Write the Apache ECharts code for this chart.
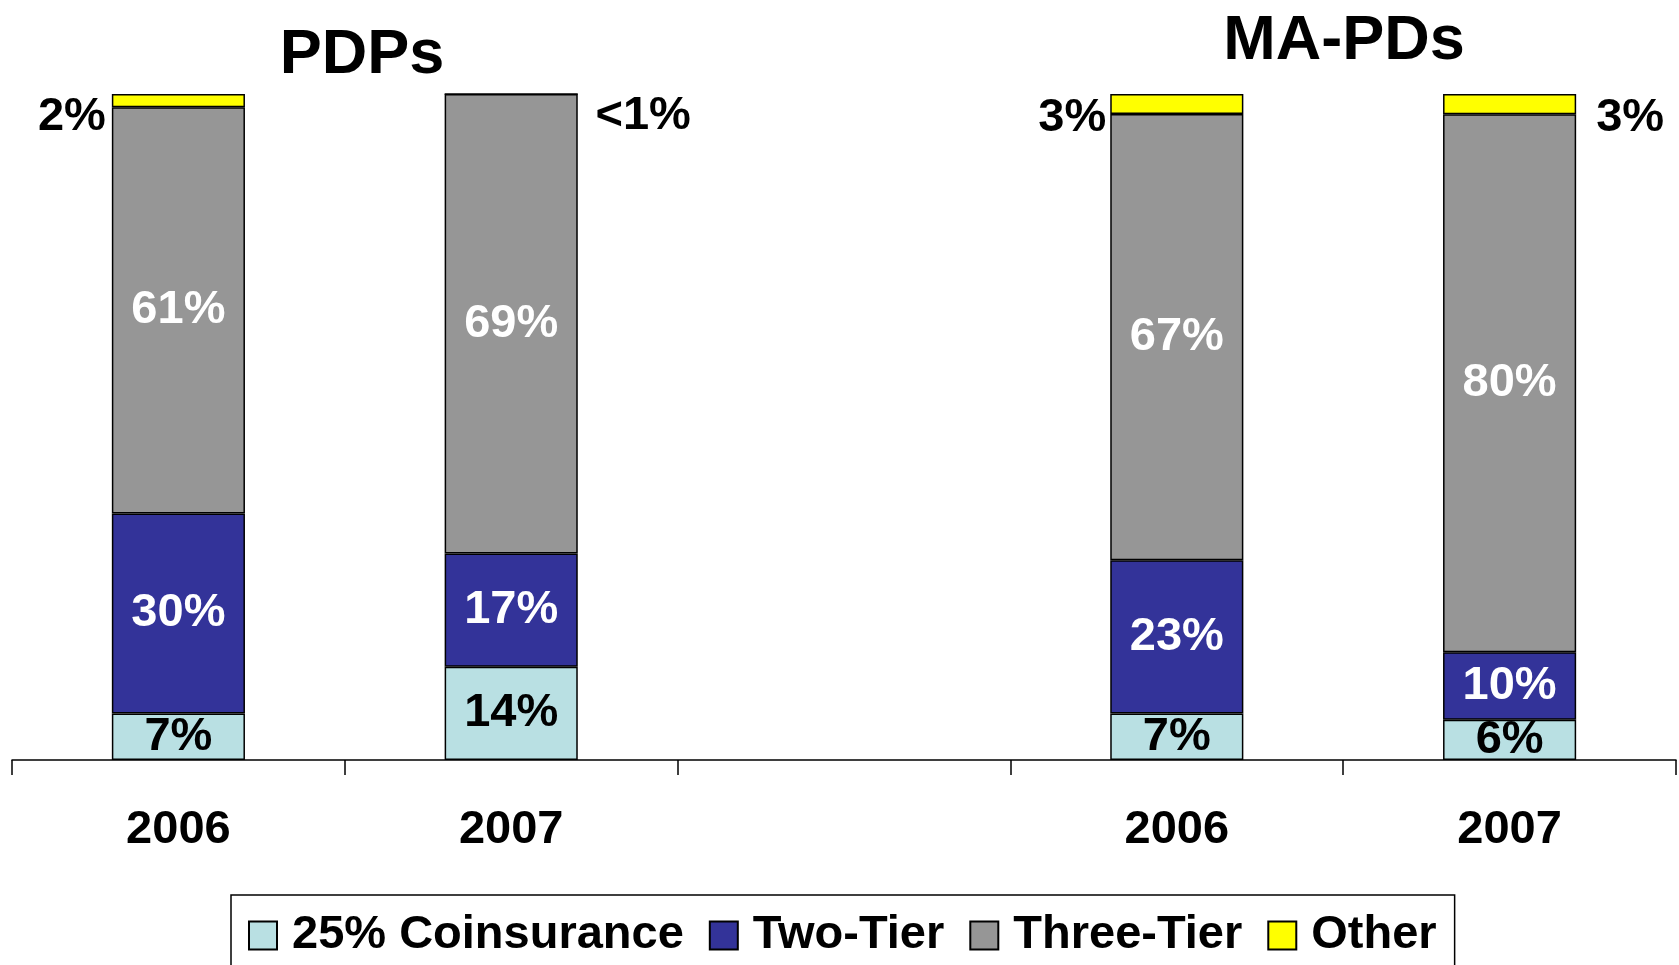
<!DOCTYPE html>
<html>
<head>
<meta charset="utf-8">
<script src="https://cdn.jsdelivr.net/npm/echarts@6/dist/echarts.min.js"></script>
<style>
html,body{margin:0;padding:0;background:#fff;}
#chart{width:1679px;height:965px;}
</style>
</head>
<body>
<div id="chart"></div>
<script>
// Data
var categories = ['2006', '2007', '', '2006', '2007'];
var coinsurance = [7, 14, null, 7, 6];
var twoTier = [30, 17, null, 23, 10];
var threeTier = [61, 69, null, 67, 80];
var other = [2, 0, null, 3, 3];   // PDP 2007 shown as "<1%"
var groupTitles = ['PDPs', 'MA-PDs'];

var FONT = "'Liberation Sans', Arial, Helvetica, sans-serif";

// 100% stacked: each column normalised to its total
var totals = categories.map(function (c, i) {
  if (coinsurance[i] == null) return null;
  return coinsurance[i] + twoTier[i] + threeTier[i] + other[i];
});
function pct(arr) {
  return arr.map(function (v, i) { return v == null ? null : v / totals[i] * 100; });
}
function fmt(v) { return v < 1 ? '<1%' : v + '%'; }

var border = { borderColor: '#000', borderWidth: 1.5 };

function innerSeries(name, raw, color, textColor) {
  return {
    name: name, type: 'bar', stack: 'total', barWidth: '40%',
    itemStyle: Object.assign({ color: color }, border),
    label: {
      show: true, position: 'inside', color: textColor,
      fontFamily: FONT, fontWeight: 'bold', fontSize: 47,
      formatter: function (p) { return raw[p.dataIndex] == null ? '' : fmt(raw[p.dataIndex]); }
    },
    data: pct(raw)
  };
}

// Outside label placement for the "Other" segment
var otherLabelPos = ['left', 'right', null, 'left', 'right'];
var otherLabelOffset = [[0, 16], [0, 22], null, [0, 14], [0, 14]];
var otherLabelDist = [6, 17, 0, 4, 20];
var otherPct = pct(other);
var otherData = otherPct.map(function (v, i) {
  if (v == null) return null;
  return {
    value: v,
    label: { position: otherLabelPos[i], offset: otherLabelOffset[i], distance: otherLabelDist[i] }
  };
});

var chart = echarts.init(document.getElementById('chart'), null, { renderer: 'canvas' });
chart.setOption({
  backgroundColor: '#fff',
  animation: false,
  title: [
    { text: groupTitles[0], left: 357, top: 51, textAlign: 'center', textVerticalAlign: 'middle',
      textStyle: { fontFamily: FONT, fontWeight: 'bold', fontSize: 63, color: '#000' } },
    { text: groupTitles[1], left: 1339, top: 37, textAlign: 'center', textVerticalAlign: 'middle',
      textStyle: { fontFamily: FONT, fontWeight: 'bold', fontSize: 63, color: '#000' } }
  ],
  legend: {
    left: 231, top: 895,
    padding: [17, 18, 20, 17],
    icon: 'rect',
    itemWidth: 28, itemHeight: 28, itemGap: 25,
    borderColor: '#000', borderWidth: 1.5,
    textStyle: { fontFamily: FONT, fontWeight: 'bold', fontSize: 47, color: '#000', padding: [0, 0, 0, 10] },
    data: ['25% Coinsurance', 'Two-Tier', 'Three-Tier', 'Other']
  },
  grid: { left: 12, right: 3, top: 94, bottom: 205, containLabel: false },
  xAxis: {
    type: 'category', data: categories,
    axisLine: { lineStyle: { color: '#000', width: 1.5 } },
    axisTick: { show: true, length: 15, interval: 0, lineStyle: { color: '#000', width: 1.5 } },
    axisLabel: { margin: 47, interval: 0, fontFamily: FONT, fontWeight: 'bold', fontSize: 47, color: '#000' }
  },
  yAxis: { type: 'value', min: 0, max: 100, show: false, splitLine: { show: false } },
  series: [
    innerSeries('25% Coinsurance', coinsurance, '#B9E0E3', '#000'),
    innerSeries('Two-Tier', twoTier, '#333399', '#fff'),
    innerSeries('Three-Tier', threeTier, '#969696', '#fff'),
    {
      name: 'Other', type: 'bar', stack: 'total', barWidth: '40%',
      itemStyle: Object.assign({ color: '#FFFF00' }, border),
      label: {
        show: true, color: '#000', fontFamily: FONT, fontWeight: 'bold', fontSize: 47,
        formatter: function (p) { return other[p.dataIndex] == null ? '' : fmt(other[p.dataIndex]); }
      },
      data: otherData
    }
  ]
});
</script>
</body>
</html>
